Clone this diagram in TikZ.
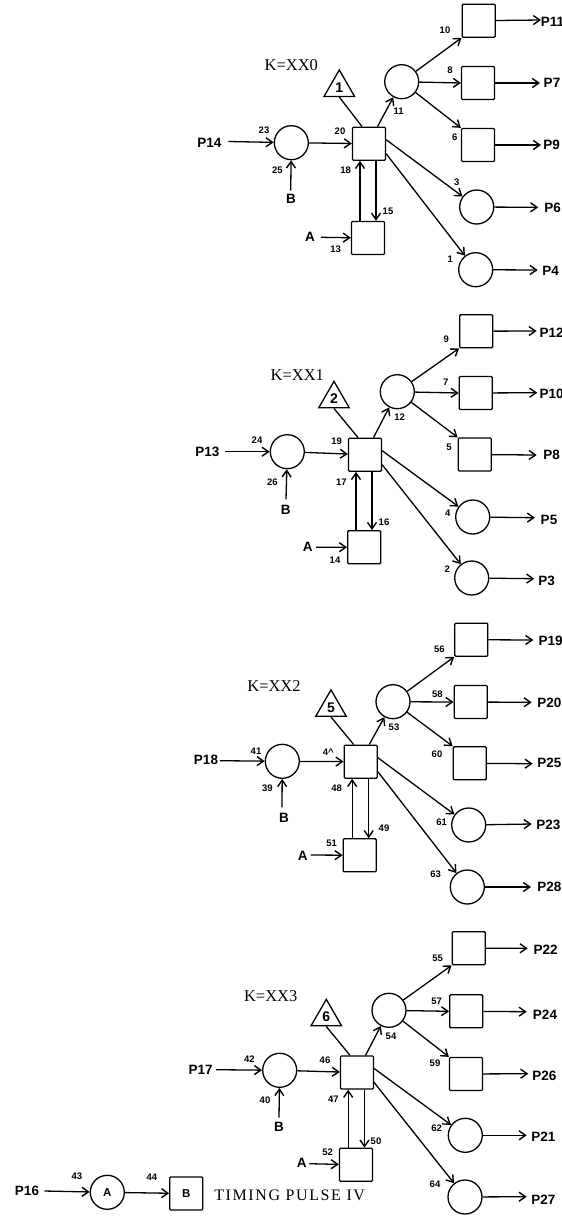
\documentclass[tikz,border=0pt]{standalone}
\usepackage{fontspec}
\setmainfont{Liberation Serif}
\newfontfamily\lettering{Liberation Sans}[Scale=1.0]
\newfontfamily\titling{Liberation Serif}
\newfontfamily\titlingwide{Liberation Serif}[LetterSpace=10]
\usetikzlibrary{arrows.meta,shapes.geometric}
\newcounter{lb}
\newcommand\numlab[3]{\stepcounter{lb}\node[numlabel] (lb\thelb) at (#1,#2) {#3};}
\newcommand\biglab[3]{\stepcounter{lb}\node[biglabel] (lb\thelb) at (#1,#2) {#3};}
\newcommand\klab[3]{\stepcounter{lb}\node[klabel] (lb\thelb) at (#1,#2) {#3};}
% connectors of one group: tag, x shift of up line, x shift of down line
\newcommand\wiregroup[3]{%
  \draw[wire] (#1p) -- (#1i);
  \draw[wire] (#1b) -- (#1i);
  \draw[wire] (#1i) -- (#1m);
  \draw[plain] (#1t.south) -- ([xshift=-7pt]#1m.north);
  \draw[wire] ([xshift=8.5pt]#1m.north) -- (#1c);
  \draw[wire] ([xshift=#2pt]#1l.north |- #1l.north) -- ([xshift=#2pt]#1l.north |- #1m.south);
  \draw[wire] ([xshift=#3pt]#1m.south) -- ([xshift=#3pt]#1m.south |- #1l.north);
  \draw[wire] (#1a) -- (#1l);
  \draw[wire] (#1c) -- (#1o1.south west);
  \draw[wire] (#1c) -- (#1o2.west);
  \draw[wire] (#1c) -- (#1o3.north west);
  \draw[wire] ([yshift=4pt]#1m.east) -- (#1o4);
  \draw[wire] ([yshift=-10pt]#1m.east) -- (#1o5);
  \foreach \k in {1,...,5} {\draw[wire] (#1o\k) -- (#1e\k);}
}
\tikzset{
  >={Straight Barb[length=6.5pt,width=9pt,line width=1.4pt]},
  plain/.style={line width=1.3pt},
  wire/.style={plain,->},
  boxnode/.style={draw,line width=1.3pt,rounded corners=1pt,minimum size=33pt,inner sep=0pt},
  ringnode/.style={draw,circle,line width=1.3pt,minimum size=34pt,inner sep=0pt},
  trinode/.style={draw,regular polygon,regular polygon sides=3,line width=1.3pt,minimum size=35.3pt,inner sep=0pt,font=\lettering\bfseries\fontsize{14}{14}\selectfont},
  numlabel/.style={inner sep=0pt,font=\lettering\bfseries\fontsize{9.5}{10}\selectfont},
  biglabel/.style={inner sep=0pt,font=\lettering\bfseries\fontsize{13.5}{14}\selectfont},
  klabel/.style={inner sep=0pt,font=\titling\fontsize{16.5}{17}\selectfont},
}
\begin{document}
\begin{tikzpicture}[x=1pt,y=-1pt]
\useasboundingbox (0,0) rectangle (562,1216);
%% group K=XX0
\node[boxnode] (ao1) at (478.7,20.7) {};
\node[boxnode] (ao2) at (478,83) {};
\node[boxnode] (ao3) at (478,145) {};
\node[ringnode] (ao4) at (476.7,207) {};
\node[ringnode] (ao5) at (475.7,269.7) {};
\node[ringnode] (ac) at (401.7,81.7) {};
\node[boxnode] (am) at (369,143.7) {};
\node[boxnode] (al) at (368,238) {};
\node[ringnode] (ai) at (291.3,142.7) {};
\node[trinode] (at) at (339.3,87.6) {1};
\coordinate (ap) at (228.3,141.5);
\coordinate (ab) at (290.7,190.7);
\coordinate (aa) at (321,237.3);
\coordinate (ae1) at (541,20);
\coordinate (ae2) at (540,83);
\coordinate (ae3) at (541,145);
\coordinate (ae4) at (538.3,207.3);
\coordinate (ae5) at (537.7,270);
\wiregroup{a}{-8}{7}
\biglab{209.3}{142.7}{P14}\biglab{291}{199.3}{B}\biglab{310}{237.3}{A}
\biglab{552.5}{21.7}{P11}\biglab{552}{83.3}{P7}\biglab{551.7}{145}{P9}\biglab{552.7}{207.7}{P6}\biglab{550.7}{270.7}{P4}
\numlab{264}{130}{23}\numlab{277.3}{170}{25}\numlab{340}{131}{20}\numlab{345.7}{170.7}{18}\numlab{388}{211.3}{15}\numlab{335.7}{249.3}{13}
\numlab{398.7}{111.7}{11}\numlab{445}{30}{10}\numlab{450}{70}{8}\numlab{454.7}{137.7}{6}\numlab{456.7}{182}{3}\numlab{450.3}{259}{1}
\klab{291.3}{65}{K=XX0}
%% group K=XX1
\node[boxnode] (bo1) at (476.2,331.2) {};
\node[boxnode] (bo2) at (475.8,393) {};
\node[boxnode] (bo3) at (474.8,454.5) {};
\node[ringnode] (bo4) at (472.7,517) {};
\node[ringnode] (bo5) at (471.7,578) {};
\node[ringnode] (bc) at (397.3,391.7) {};
\node[boxnode] (bm) at (365,454.7) {};
\node[boxnode] (bl) at (364.2,547.2) {};
\node[ringnode] (bi) at (287.3,451.7) {};
\node[trinode] (bt) at (334,399) {2};
\coordinate (bp) at (225,451.7);
\coordinate (bb) at (286,499.3);
\coordinate (ba) at (316,547.3);
\coordinate (be1) at (536.7,331);
\coordinate (be2) at (537.3,392.7);
\coordinate (be3) at (536.7,455);
\coordinate (be4) at (535,517.7);
\coordinate (be5) at (534.3,578.7);
\wiregroup{b}{-8.2}{7}
\biglab{207.3}{451.7}{P13}\biglab{285.7}{510}{B}\biglab{307.7}{547.3}{A}
\biglab{551.7}{332.3}{P12}\biglab{551.7}{394.3}{P10}\biglab{551.7}{455.3}{P8}\biglab{549}{520}{P5}\biglab{546.7}{580.7}{P3}
\numlab{257}{440.3}{24}\numlab{272.3}{482}{26}\numlab{336.7}{441.7}{19}\numlab{341.3}{482.7}{17}\numlab{384}{522.7}{16}\numlab{335}{560}{14}
\numlab{399.7}{416.7}{12}\numlab{446.3}{339.3}{9}\numlab{445.7}{382.7}{7}\numlab{449}{447.3}{5}\numlab{447.7}{513.3}{4}\numlab{447.3}{568.7}{2}
\klab{297.3}{375}{K=XX1}
%% group K=XX2
\node[boxnode] (co1) at (471.3,639.7) {};
\node[boxnode] (co2) at (470.7,702) {};
\node[boxnode] (co3) at (469.8,763.3) {};
\node[ringnode] (co4) at (468.7,825) {};
\node[ringnode] (co5) at (467.3,887) {};
\node[ringnode] (cc) at (393,701.7) {};
\node[boxnode] (cm) at (360.7,761.7) {};
\node[boxnode] (cl) at (359.7,855.3) {};
\node[ringnode] (ci) at (282.3,761.3) {};
\node[trinode] (ct) at (331,707.5) {5};
\coordinate (cp) at (220,760.7);
\coordinate (cb) at (282,807.3);
\coordinate (ca) at (310.7,855);
\coordinate (ce1) at (533.3,640);
\coordinate (ce2) at (531.7,702.3);
\coordinate (ce3) at (532.7,763.7);
\coordinate (ce4) at (531.7,824);
\coordinate (ce5) at (531,887);
\wiregroup{c}{-7.5}{8}
\biglab{206}{760}{P18}\biglab{284}{817.7}{B}\biglab{302.7}{855.7}{A}
\biglab{550.7}{641}{P19}\biglab{549.3}{703.3}{P20}\biglab{549.3}{763.3}{P25}\biglab{548.3}{825}{P23}\biglab{549.3}{886.7}{P28}
\numlab{256}{751}{41}\numlab{267.3}{788.3}{39}\numlab{328.3}{752.3}{4\textasciicircum}\numlab{336.7}{788.3}{48}\numlab{384}{828.3}{49}\numlab{331.7}{843.3}{51}
\numlab{394}{727.7}{53}\numlab{439.3}{649}{56}\numlab{437.3}{694}{58}\numlab{437}{754.7}{60}\numlab{441.7}{822.7}{61}\numlab{435.7}{874}{63}
\klab{274}{686}{K=XX2}
%% group K=XX3
\node[boxnode] (do1) at (468.8,948.2) {};
\node[boxnode] (do2) at (466.2,1011.3) {};
\node[boxnode] (do3) at (466,1074) {};
\node[ringnode] (do4) at (465.3,1135.3) {};
\node[ringnode] (do5) at (465,1197) {};
\node[ringnode] (dc) at (389,1010.3) {};
\node[boxnode] (dm) at (357,1072.5) {};
\node[boxnode] (dl) at (356,1164.8) {};
\node[ringnode] (di) at (279.7,1070.3) {};
\node[trinode] (dt) at (326.3,1017) {6};
\coordinate (dp) at (216,1069.7);
\coordinate (db) at (279,1117.7);
\coordinate (da) at (309.3,1163.7);
\coordinate (de1) at (527.7,948.3);
\coordinate (de2) at (526.7,1011.7);
\coordinate (de3) at (528.3,1073.7);
\coordinate (de4) at (526.7,1135.3);
\coordinate (de5) at (526.7,1196.7);
\wiregroup{d}{-7.8}{7.5}
\biglab{200.7}{1070}{P17}\biglab{279}{1127}{B}\biglab{301.7}{1163.3}{A}
\biglab{545.7}{950}{P22}\biglab{545}{1014.3}{P24}\biglab{544.3}{1076}{P26}\biglab{543.3}{1137}{P21}\biglab{543.3}{1199.3}{P27}
\numlab{249.3}{1058.7}{42}\numlab{265}{1100}{40}\numlab{325}{1060.3}{46}\numlab{333.3}{1099.3}{47}\numlab{376}{1141.3}{50}\numlab{327.7}{1152}{52}
\numlab{391}{1036.7}{54}\numlab{437.7}{958.3}{55}\numlab{436.7}{1001.7}{57}\numlab{435}{1063}{59}\numlab{436.7}{1128.3}{62}\numlab{435}{1184.3}{64}
\klab{270.7}{996}{K=XX3}
%% timing pulse
\coordinate (tp) at (44.3,1191);
\node[ringnode,font=\lettering\bfseries\fontsize{11.5}{12}\selectfont] (ta) at (107.3,1192.3) {A};
\node[boxnode,font=\lettering\bfseries\fontsize{11.5}{12}\selectfont] (tb) at (186.3,1193.5) {B};
\draw[wire] (tp) -- (ta);
\draw[wire] (ta) -- (tb);
\biglab{27}{1190.7}{P16}
\numlab{77}{1176.7}{43}\numlab{152}{1177.7}{44}
\stepcounter{lb}\node[inner sep=0pt,font=\titlingwide\fontsize{16}{16}\selectfont] (lb\thelb) at (289.7,1195.7) {TIMING PULSE IV};
\end{tikzpicture}
\end{document}
